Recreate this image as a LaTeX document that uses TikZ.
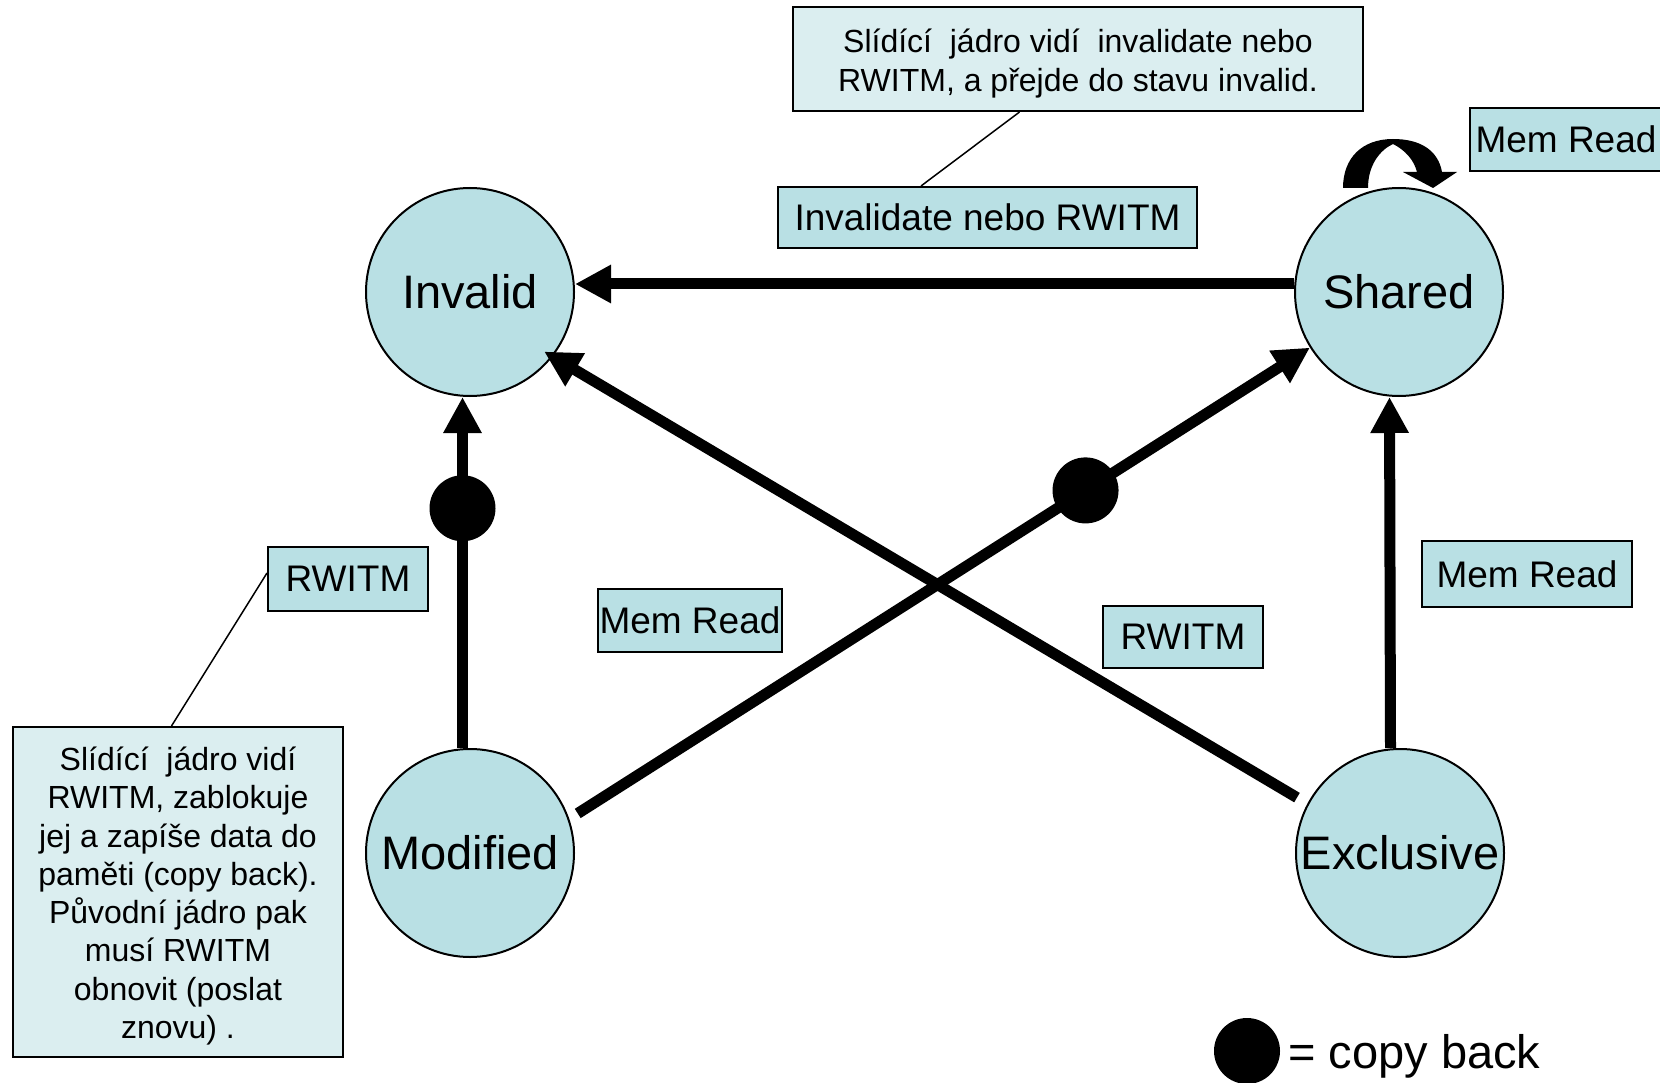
\documentclass[tikz,border=0pt]{standalone}
\usepackage{fontspec}
\setmainfont{Liberation Sans}
\usetikzlibrary{arrows.meta,calc}
\definecolor{tealA}{RGB}{185,224,228}
\definecolor{tealB}{RGB}{219,238,240}
\begin{document}
\begin{tikzpicture}[x=1pt,y=-1pt,
 statenode/.style={circle,draw,line width=2pt,fill=tealA,minimum size=208pt,inner sep=0pt,font=\fontsize{47}{54}\selectfont},
 lbl/.style={draw,line width=2pt,fill=tealA,inner sep=0pt,font=\fontsize{37}{42}\selectfont},
 callout/.style={draw,line width=2pt,fill=tealB,inner sep=0pt},
 callouttext/.style={inner sep=0pt,align=center,font=\fontsize{32}{38.3}\selectfont},
 trans/.style={line width=11pt,-{Triangle[length=36pt,width=36pt]}},
 cb/.style={circle,fill=black,minimum size=66pt,inner sep=0pt},
 lead/.style={line width=1.5pt}]
\clip (0,0) rectangle (1660,1083);
\fill[white] (0,0) rectangle (1660,1083);

% states
\node[statenode] (I) at (470,292) {Invalid};
\node[statenode] (S) at (1399,292) {Shared};
\node[statenode] (M) at (470,853) {Modified};
\node[statenode] (E) at (1400,853) {Exclusive};

% labels
\node[lbl,minimum width=419pt,minimum height=61pt] (IR) at (987.5,217.5) {Invalidate nebo RWITM};
\node[lbl,minimum width=160pt,minimum height=64pt] (RL) at (348,579) {RWITM};
\node[lbl,minimum width=184pt,minimum height=63pt] (MRm) at (690,620.5) {Mem Read};
\node[lbl,minimum width=160pt,minimum height=62pt] (RR) at (1183,637) {RWITM};
\node[lbl,minimum width=210pt,minimum height=66pt] (MRr) at (1527,574) {Mem Read};
\node[lbl,minimum width=192pt,minimum height=63pt] (MRt) at (1566,139.5) {Mem Read};

% callouts
\node[callout,minimum width=570pt,minimum height=104pt] (TC) at (1078,59) {};
\node[callouttext] (TCt) at (1078,63.5)
 {Slídící~ jádro vidí~ invalidate nebo\\RWITM, a přejde do stavu invalid.};
\node[callout,minimum width=330pt,minimum height=330pt] (LC) at (178,892) {};
\node[callouttext] (LCt) at (178,896)
 {Slídící~ jádro vidí\\RWITM, zablokuje\\jej a zapíše data do\\paměti (copy back).\\Původní jádro pak\\musí RWITM\\obnovit (poslat\\znovu) .};

\draw[lead] ([xshift=-58.5pt]TC.south) -- ([xshift=-66.5pt]IR.north);
\draw[lead] ([xshift=-6.5pt]LC.north) -- ([yshift=6pt]RL.west);

% transitions
\draw[trans] ([yshift=8pt]S.west) -- ([yshift=8pt]I.east);
\draw[trans] ([xshift=-7.5pt]M.north) -- node[cb,pos=0.683] (d1) {} ([xshift=-7.5pt]I.south);
\draw[trans,shorten <=10pt] (M.19) -- node[cb,pos=0.697] (d2) {} (S.212);
\draw[trans,shorten <=12pt,shorten >=-10pt] (E.152) -- (I.-38);
\draw[trans] ([xshift=-9.5pt]E.north) -- ([xshift=-9.5pt]S.south);

% self loop on Shared
\fill[shift={(S.center)}] (-56,-104) -- (-31,-104)
  .. controls (-31,-127) and (-19,-142) .. (-6,-148)
  .. controls (6,-142) and (15,-132) .. (18,-120)
  -- (4,-120) -- (34,-104) -- (58,-120) -- (43,-120)
  .. controls (39,-142) and (21,-153) .. (-6,-153)
  .. controls (-37,-153) and (-56,-134) .. (-56,-104) -- cycle;

% legend
\node[cb] (ld) at (1247,1051) {};
\node[anchor=base west,font=\fontsize{47}{54}\selectfont,inner sep=0pt] (lt) at (1288,1068) {= copy back};
\end{tikzpicture}
\end{document}
